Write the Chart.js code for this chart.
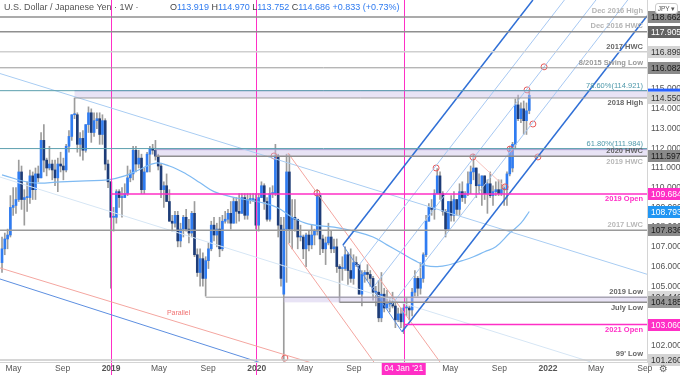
<!DOCTYPE html>
<html>
<head>
<meta charset="utf-8">
<script src="https://cdn.jsdelivr.net/npm/chart.js@4.4.1/dist/chart.umd.min.js"></script>
<style>
  html, body { margin: 0; padding: 0; background: #fff; }
  #wrap { position: relative; width: 680px; height: 375px; overflow: hidden; }
  #header { position: absolute; left: 4px; top: 2px; font: 9px "Liberation Sans", Arial, sans-serif; color: #555; white-space: nowrap; }
  #header .ohlc { position: absolute; left: 166px; top: 0; color: #2f7bf0; }
  #header .ohlc b { font-weight: normal; color: #444; }
  #ccy { position: absolute; left: 655px; top: 3px; width: 21px; height: 9px; border: 1px solid #ccc; border-radius: 3px;
         font: 6.5px "Liberation Sans", Arial, sans-serif; color: #555; text-align: center; line-height: 9px; background: #fff; }
  #gear { position: absolute; left: 659px; top: 363px; font: 10px "DejaVu Sans", sans-serif; color: #666; }
</style>
</head>
<body>
<div id="wrap">
  <canvas id="chart" width="680" height="375"></canvas>
  <div id="header">U.S. Dollar / Japanese Yen · 1W ·
    <span class="ohlc"><b>O</b>113.919 <b>H</b>114.970 <b>L</b>113.752 <b>C</b>114.686 +0.833 (+0.73%)</span>
  </div>
  <div id="ccy">JPY ▾</div>
  <div id="gear">⚙</div>
</div>
<script>
// weekly candles, week 0 = 2 Apr 2018
const opens = [
  106.2,106.9,107.4,107.6,109.0,109.1,109.4,110.8,109.4,109.5,109.5,110.6,109.9,110.7,110.5,112.4,111.4,111.0,111.2,110.9,
  110.5,111.2,111.1,110.9,112.1,112.6,113.7,113.7,112.2,112.5,111.9,113.2,113.8,112.8,113.4,113.5,112.7,113.4,111.2,110.3,
  108.5,108.5,109.8,109.5,109.5,109.7,110.5,110.7,111.9,111.2,111.5,109.9,110.8,111.7,112.0,111.9,111.6,111.1,109.9,110.1,
  109.3,108.3,108.2,108.6,107.3,107.9,108.5,107.9,107.7,108.7,106.6,105.7,106.4,105.4,106.3,106.9,108.1,107.6,107.9,106.9,
  108.3,108.4,108.7,108.2,109.3,108.8,108.7,109.5,108.6,109.4,109.4,109.4,108.1,109.5,110.1,109.3,108.4,109.7,109.7,111.6,
  108.1,104.6,107.9,110.8,107.9,108.5,108.4,107.5,107.5,106.9,107.6,107.1,107.6,107.8,109.6,107.4,106.9,107.2,107.5,106.9,
  107.0,106.0,105.9,105.9,106.6,105.8,105.4,106.2,106.1,104.6,105.6,105.7,105.6,105.4,104.7,104.7,103.4,104.6,103.9,104.1,
  104.2,104.0,103.3,103.6,103.2,103.9,103.9,103.8,104.7,105.4,104.9,105.4,106.6,108.3,109.0,108.9,109.7,110.6,109.7,108.8,
  107.9,109.3,108.6,109.4,108.9,109.8,109.5,109.7,110.2,110.8,111.0,110.1,110.1,110.6,109.7,110.2,109.6,109.8,109.9,109.7,
  109.9,109.9,110.7,111.0,112.2,114.2,113.5,114.0,113.4,113.919
];
const highs = [
  107.5,107.7,107.9,109.6,110.0,110.0,111.4,111.1,109.9,110.3,110.9,110.8,111.0,111.1,112.8,113.2,111.5,112.1,111.4,111.4,
  111.5,111.8,111.5,112.2,112.9,113.7,114.55,113.8,112.8,112.9,113.2,114.1,114.0,113.8,113.8,113.8,113.7,113.5,111.4,110.3,
  109.0,109.9,109.9,110.0,110.2,111.1,110.9,112.1,112.1,111.9,111.7,111.0,111.8,112.1,112.2,112.4,111.7,111.2,110.3,110.7,
  109.9,108.6,108.8,108.8,108.2,108.6,108.9,108.4,108.8,109.3,106.9,106.9,106.7,106.5,107.2,108.3,108.5,108.2,108.5,108.6,
  108.8,108.9,109.3,109.5,109.5,109.7,109.7,109.7,109.7,109.7,109.7,109.7,109.7,110.3,110.2,109.5,110.0,110.1,112.2,111.7,
  108.5,108.5,111.7,111.7,109.4,109.4,108.4,108.1,107.6,107.7,107.8,108.1,107.9,109.9,109.6,107.6,107.5,108.2,107.8,107.4,
  107.4,106.1,106.5,107.0,106.7,106.9,106.6,106.5,106.1,105.8,105.8,106.1,105.8,105.5,105.0,105.3,105.7,104.9,104.8,104.4,
  104.7,104.2,103.9,103.9,104.1,104.4,104.0,104.9,105.8,105.5,106.2,106.7,108.6,109.2,109.4,109.9,110.97,110.8,109.8,108.9,
  109.3,109.6,109.8,109.4,110.2,110.3,109.8,110.8,111.1,111.7,111.0,110.7,110.6,110.6,110.4,110.8,110.1,110.3,110.4,110.4,
  110.1,110.8,112.1,112.3,114.5,114.7,114.3,114.4,114.3,114.970
];
const lows = [
  105.7,106.6,106.9,107.5,108.6,108.7,109.3,108.9,108.1,108.8,109.2,109.4,109.4,110.3,110.5,110.8,110.6,110.9,110.4,110.1,
  109.8,110.8,110.4,110.8,111.8,112.4,113.5,111.8,111.6,111.4,111.8,112.8,112.3,112.6,113.0,112.2,112.2,110.9,110.0,104.9,
  107.8,108.2,109.0,108.5,109.5,109.6,110.3,110.4,110.8,111.0,109.7,109.7,110.8,110.8,111.7,111.4,110.9,109.5,109.0,109.3,
  108.3,107.8,108.0,107.0,107.0,107.5,107.8,107.2,107.5,106.5,105.5,105.0,105.0,104.5,105.9,106.8,107.3,107.0,106.5,106.8,
  108.2,108.2,107.9,108.2,108.2,108.3,108.7,108.4,108.4,109.2,109.3,107.9,107.8,109.5,108.9,108.3,108.3,109.5,109.6,107.5,
  105.0,101.2,105.2,107.2,106.9,107.8,106.9,107.3,106.4,106.0,106.8,106.9,107.1,107.6,106.6,106.7,106.1,107.1,106.7,106.7,
  105.7,104.2,105.3,105.8,105.1,105.2,105.1,106.0,104.6,104.0,105.2,105.3,105.0,104.3,104.0,103.2,103.2,103.7,103.9,103.7,
  103.9,102.9,103.2,102.9,102.6,103.5,103.3,103.5,104.5,104.5,104.6,105.2,106.5,108.3,108.6,108.4,109.7,109.4,108.6,107.5,
  107.9,108.3,108.3,108.6,108.6,109.3,109.2,109.6,109.7,110.4,109.5,109.7,109.1,109.4,108.7,109.5,109.1,109.6,109.6,109.6,
  109.1,109.1,110.6,110.8,112.0,113.4,113.3,112.7,112.7,113.752
];
const closes = [
  106.9,107.4,107.6,109.0,109.1,109.4,110.8,109.4,109.5,109.5,110.6,109.9,110.7,110.5,112.4,111.4,111.0,111.2,110.9,110.5,
  111.2,111.1,110.9,112.1,112.6,113.7,113.7,112.2,112.5,111.9,113.2,113.8,112.8,113.4,113.5,112.7,113.4,111.2,110.3,108.5,
  108.5,109.8,109.5,109.5,109.7,110.5,110.7,111.9,111.2,111.5,109.9,110.8,111.7,112.0,111.9,111.6,111.1,109.9,110.1,109.3,
  108.3,108.2,108.6,107.3,107.9,108.5,107.9,107.7,108.7,106.6,105.7,106.4,105.4,106.3,106.9,108.1,107.6,107.9,106.9,108.3,
  108.4,108.7,108.2,109.3,108.8,108.7,109.5,108.6,109.4,109.4,109.4,108.1,109.5,110.1,109.3,108.4,109.7,109.7,111.6,108.1,
  105.4,107.9,110.8,107.9,108.5,108.4,107.5,107.5,106.9,107.6,107.1,107.6,107.8,109.6,107.4,106.9,107.2,107.5,106.9,107.0,
  106.0,105.9,105.9,106.6,105.8,105.4,106.2,106.1,104.6,105.6,105.7,105.6,105.4,104.7,104.7,103.4,104.6,103.9,104.1,104.2,
  104.0,103.3,103.6,103.2,103.9,103.9,103.8,104.7,105.4,104.9,105.4,106.6,108.3,109.0,108.9,109.7,110.6,109.7,108.8,107.9,
  109.3,108.6,109.4,108.9,109.8,109.5,109.7,110.2,110.8,111.0,110.1,110.1,110.6,109.7,110.2,109.6,109.8,109.9,109.7,109.9,
  109.9,110.7,111.9,112.2,114.2,113.5,114.0,113.4,113.9,114.686
];

// 52-week average
const maWeeks  = [0, 11, 21, 30, 38, 44, 49, 55, 60, 66, 71, 76, 82, 87, 93, 99, 104, 110, 119, 126, 133, 138, 143, 148, 152, 156, 160, 165, 169, 173, 177, 182, 186, 189];
const maValues = [110.65, 110.25, 110.3, 110.35, 110.4, 110.6, 110.9, 111.25, 111.1, 110.7, 110.25, 109.8, 109.55, 109.4, 109.25, 108.97, 108.5, 108.15, 108.0, 107.8, 107.5, 107.1, 106.7, 106.3, 106.05, 106.0, 106.08, 106.3, 106.5, 106.75, 107.0, 107.7, 108.2, 108.793];

// x axis
const tickWeeks  = [4.14, 21.7, 39.1, 56.3, 73.9, 91.3, 108.6, 126.1, 144, 160.7, 178.3, 195.7, 212.9, 230.4];
const tickLabels = ['May', 'Sep', '2019', 'May', 'Sep', '2020', 'May', 'Sep', "04 Jan '21", 'May', 'Sep', '2022', 'May', 'Sep'];
const yTickValues = [102, 103, 104, 105, 106, 107, 108, 109, 110, 111, 112, 113, 114, 115, 116, 117, 118];

// horizontal levels
const levelNames  = ['Dec 2016 High', 'Dec 2016 HWC', '2017 HWC', '8/2015 Swing Low', '78.60%(114.921)', '2018 High', '61.80%(111.984)', '2020 HWC', '2019 HWC', '2019 Open', '2017 LWC', '2019 Low', 'July Low', '2021 Open', "99' Low"];
const levelPrices = [118.662, 117.905, 116.899, 116.082, 114.921, 114.550, 111.984, 111.86, 111.597, 109.684, 107.836, 104.446, 104.185, 103.060, 101.260];
const levelStart  = [-1, -1, -1, -1, -1, 26, -1, 55, 55, 39, -1, 73, 121, 144, -1];

// shaded zones
const zoneStart = [26, 55, 101];
const zoneLow   = [114.550, 111.597, 104.185];
const zoneHigh  = [114.921, 111.930, 104.446];

// price scale flags
const flagPrices = [118.662, 117.905, 116.899, 116.082, 114.550, 111.597, 109.684, 108.793, 107.836, 104.446, 104.185, 103.060, 101.260];

// year / period markers
const markerWeeks = [39, 91, 144];

// trend lines [start week, start price, end week, end price]
const lineW1 = [-0.72, -0.72, -0.72, -0.72, 102.5, 102.5, 168.8, 122.2, 127.5, 132.8, 138.1, 143.4, 122.2];
const lineP1 = [115.79, 110.54, 105.37, 105.93, 111.76, 107.20, 111.56, 107.09, 105.99, 104.89, 103.78, 102.69, 107.09];
const lineW2 = [231.2, 231.2, 231.2, 231.2, 157.0, 133.3, 180.3, 190.3, 201.6, 212.9, 224.3, 231.2, 143.4];
const lineP2 = [105.61, 100.27, 94.82, 95.93, 101.16, 101.16, 110.04, 119.52, 119.52, 119.52, 119.52, 118.71, 102.69];

// pivot circles
const pivotWeeks  = [97.5, 101.4, 112.9, 155.6, 168.8, 180.3, 182.1, 192.1, 190.3, 188.2, 194.3];
const pivotPrices = [111.61, 101.36, 109.73, 111.00, 111.56, 110.04, 111.96, 111.56, 113.23, 114.96, 116.13];

const FONT = '"Liberation Sans", Arial, sans-serif';
const MAGENTA = '#ff2fc6';

const levelStyle = [
  { c: '#8f8f8f', w: 1.5, lc: '#b4b4b4', dy: -6 },
  { c: '#8f8f8f', w: 1.5, lc: '#b4b4b4', dy: -6 },
  { c: '#cfcfcf', w: 1.5, lc: '#666', dy: -5 },
  { c: '#9a9a9a', w: 1, lc: '#9a9a9a', dy: -5 },
  { c: '#5b9fae', w: 1, lc: '#4e98aa', dy: -5, normal: true },
  { c: '#9a9a9a', w: 1, lc: '#666', dy: 5 },
  { c: '#5b9fae', w: 1, lc: '#4e98aa', dy: -5, normal: true },
  { c: null, lc: '#666', dy: 0 },
  { c: '#8f8f8f', w: 1.5, lc: '#b8b8b8', dy: 6 },
  { c: MAGENTA, w: 1.5, lc: MAGENTA, dy: 5 },
  { c: '#9a9a9a', w: 1.5, lc: '#b8b8b8', dy: -5 },
  { c: '#a0a0a0', w: 1, lc: '#666', dy: -5 },
  { c: '#8f8f8f', w: 1.5, lc: '#666', dy: 6 },
  { c: MAGENTA, w: 1.5, lc: MAGENTA, dy: 5 },
  { c: '#c9c9c9', w: 1.5, lc: '#666', dy: -6 }
];
const flagStyle = [
  ['#8a8a8a', '#1a1a1a'], ['#636363', '#fff'], ['#d4d4d4', '#333'], ['#8a8a8a', '#1a1a1a'], ['#d4d4d4', '#333'],
  ['#8a8a8a', '#1a1a1a'], [MAGENTA, '#fff'], ['#2196f3', '#fff'], ['#8a8a8a', '#1a1a1a'], ['#dadada', '#444'],
  ['#9a9a9a', '#1a1a1a'], [MAGENTA, '#fff'], ['#d4d4d4', '#333']
];
const lineStyle = [
  ['#a9cdf3', 1], ['#d6e6f5', 1], ['#5d8fe0', 1], ['#f4a6a0', 1], ['#f4a6a0', 1], ['#f4a6a0', 1], ['#f7c1bc', 1],
  ['#2f6fd6', 1.5], ['#a7c8f2', 1], ['#a7c8f2', 1], ['#a7c8f2', 1], ['#2f6fd6', 1.5], ['#5d8fe0', 1]
];

const drawings = {
  id: 'drawings',
  beforeDraw(chart) {
    const { ctx, chartArea: a, scales: { x } } = chart;
    ctx.save();
    // year markers run through the time axis
    ctx.strokeStyle = MAGENTA;
    ctx.lineWidth = 1;
    markerWeeks.forEach(w => {
      const px = Math.round(x.getPixelForValue(w)) + 0.5;
      ctx.beginPath(); ctx.moveTo(px, a.bottom); ctx.lineTo(px, chart.height); ctx.stroke();
    });
    const i = tickLabels.indexOf("04 Jan '21");
    const px = x.getPixelForValue(tickWeeks[i]);
    ctx.fillStyle = MAGENTA;
    ctx.fillRect(px - 22, a.bottom + 1, 44, 13);
    ctx.restore();
  },
  afterDatasetsDraw(chart) {
    const { ctx, chartArea: a, scales: { x, y } } = chart;
    ctx.save();
    ctx.beginPath();
    ctx.rect(a.left, a.top, a.right - a.left, a.bottom - a.top);
    ctx.clip();

    // zones
    zoneStart.forEach((w, i) => {
      const x0 = x.getPixelForValue(w), yt = y.getPixelForValue(zoneHigh[i]), yb = y.getPixelForValue(zoneLow[i]);
      ctx.fillStyle = 'rgba(203,193,232,0.45)';
      ctx.fillRect(x0, yt, a.right - x0, yb - yt);
      ctx.strokeStyle = '#a99bd2';
      ctx.lineWidth = 1;
      ctx.beginPath(); ctx.moveTo(x0, yt); ctx.lineTo(a.right, yt); ctx.stroke();
    });

    // vertical markers
    ctx.strokeStyle = MAGENTA;
    ctx.lineWidth = 1;
    markerWeeks.forEach(w => {
      const px = Math.round(x.getPixelForValue(w)) + 0.5;
      ctx.beginPath(); ctx.moveTo(px, a.top); ctx.lineTo(px, a.bottom); ctx.stroke();
    });

    // trend lines
    lineW1.forEach((w, i) => {
      ctx.strokeStyle = lineStyle[i][0];
      ctx.lineWidth = lineStyle[i][1];
      ctx.beginPath();
      ctx.moveTo(x.getPixelForValue(w), y.getPixelForValue(lineP1[i]));
      ctx.lineTo(x.getPixelForValue(lineW2[i]), y.getPixelForValue(lineP2[i]));
      ctx.stroke();
    });

    // horizontal levels + labels
    levelPrices.forEach((p, i) => {
      const s = levelStyle[i];
      const py = y.getPixelForValue(p);
      if (s.c) {
        const x0 = levelStart[i] < 0 ? a.left : x.getPixelForValue(levelStart[i]);
        ctx.strokeStyle = s.c;
        ctx.lineWidth = s.w;
        ctx.beginPath(); ctx.moveTo(x0, py); ctx.lineTo(a.right, py); ctx.stroke();
      }
      ctx.font = (s.normal ? '' : 'bold ') + '7.5px ' + FONT;
      ctx.fillStyle = s.lc;
      ctx.textAlign = 'right';
      ctx.textBaseline = 'middle';
      ctx.fillText(levelNames[i], a.right - 4, py + s.dy);
    });

    ctx.font = '7px ' + FONT;
    ctx.fillStyle = '#f07070';
    ctx.textAlign = 'left';
    ctx.fillText('Parallel', x.getPixelForValue(59.1), y.getPixelForValue(103.64));
    ctx.restore();
  },
  afterDraw(chart) {
    const { ctx, chartArea: a, scales: { y } } = chart;
    ctx.save();
    ctx.font = '8.5px ' + FONT;
    ctx.textBaseline = 'middle';
    ctx.textAlign = 'left';
    flagPrices.forEach((p, i) => {
      const py = Math.round(y.getPixelForValue(p));
      ctx.fillStyle = flagStyle[i][0];
      ctx.fillRect(a.right + 1, py - 6, 33, 12);
      ctx.fillStyle = flagStyle[i][1];
      ctx.fillText(p.toFixed(3), a.right + 4, py + 0.5);
    });
    ctx.fillStyle = '#2962ff';
    ctx.fillRect(a.right + 1, y.getPixelForValue(114.95) - 1.5, 33, 3);
    ctx.restore();
  }
};

const candleColor = c => {
  const i = c.dataIndex;
  return closes[i] >= opens[i] ? '#2f7cf2' : '#1d3c78';
};

new Chart(document.getElementById('chart'), {
  type: 'bar',
  data: {
    datasets: [
      {
        type: 'scatter',
        data: pivotWeeks.map((w, i) => ({ x: w, y: pivotPrices[i] })),
        pointStyle: 'circle', pointRadius: 3, pointHoverRadius: 3, borderWidth: 1,
        borderColor: '#e65a5a', backgroundColor: 'rgba(255,255,255,0)',
        order: 0
      },
      {
        type: 'line',
        data: maWeeks.map((w, i) => ({ x: w, y: maValues[i] })),
        borderColor: '#7fbaf2', borderWidth: 1.2, pointRadius: 0, tension: 0.4,
        order: 1
      },
      {
        type: 'bar',
        data: opens.map((o, i) => ({ x: i, y: [o, closes[i]] })),
        backgroundColor: candleColor,
        barThickness: 2, minBarLength: 1, grouped: false,
        order: 2
      },
      {
        type: 'bar',
        data: opens.map((o, i) => ({ x: i, y: [lows[i], highs[i]] })),
        backgroundColor: '#9c9c9c',
        barThickness: 1, grouped: false,
        order: 3
      }
    ]
  },
  options: {
    responsive: false,
    animation: false,
    devicePixelRatio: 1,
    layout: { padding: 0, autoPadding: false },
    plugins: { legend: { display: false }, tooltip: { enabled: false } },
    scales: {
      x: {
        type: 'linear', min: -0.72, max: 231.2, offset: false,
        grid: { display: false, drawTicks: false },
        border: { color: '#d4d4d4' },
        afterBuildTicks: s => { s.ticks = tickWeeks.map(v => ({ value: v })); },
        afterFit: s => { s.height = 13; s.paddingLeft = 0; s.paddingRight = 0; },
        ticks: {
          autoSkip: false, maxRotation: 0, padding: 2,
          callback: (v, i) => tickLabels[i],
          color: c => tickLabels[c.index] === "04 Jan '21" ? '#fff' : '#555',
          font: c => ({ family: FONT, size: 8.5, weight: /^\d{4}$/.test(tickLabels[c.index]) ? 'bold' : 'normal' })
        }
      },
      y: {
        position: 'right', min: 101.16, max: 119.52,
        grid: { display: false, drawTicks: false },
        border: { color: '#d4d4d4' },
        afterBuildTicks: s => { s.ticks = yTickValues.map(v => ({ value: v })); },
        afterFit: s => { s.width = 33; s.paddingTop = 0; s.paddingBottom = 0; },
        ticks: {
          padding: 4, color: '#555',
          font: { family: FONT, size: 8.5 },
          callback: v => v.toFixed(3)
        }
      }
    }
  },
  plugins: [drawings]
});
</script>
</body>
</html>
